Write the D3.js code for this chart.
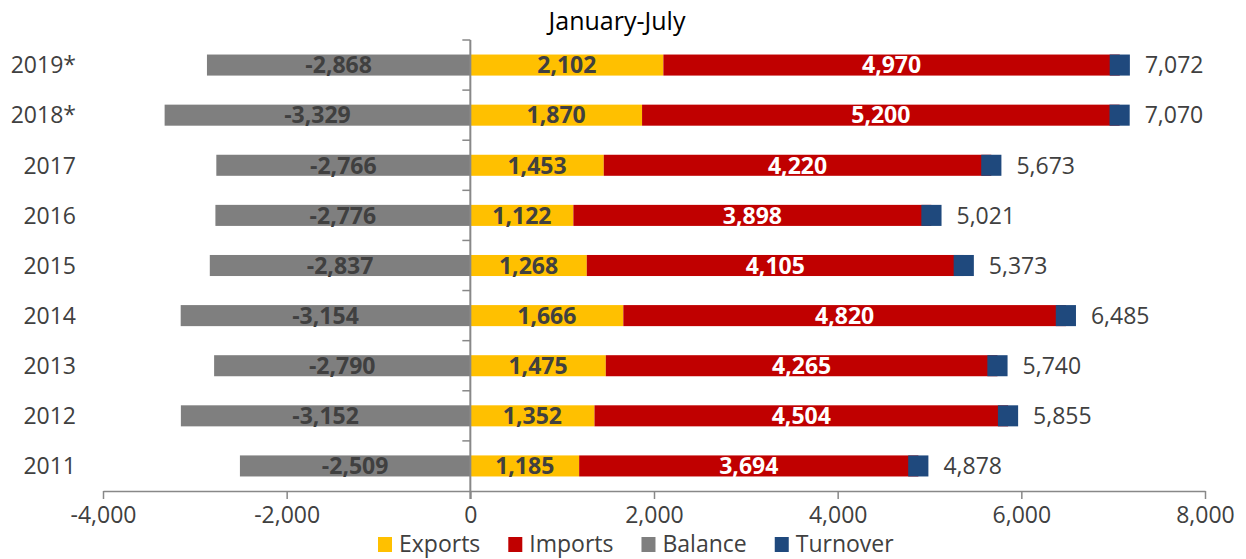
<!DOCTYPE html>
<html>
<head>
<meta charset="utf-8">
<script src="https://cdn.jsdelivr.net/npm/d3@7"></script>
<style>
body{margin:0;background:#fff;}
text{font-family:"Open Sans",sans-serif;}
</style>
</head>
<body>
<script>
// DATA
var years    = ["2019*","2018*","2017","2016","2015","2014","2013","2012","2011"];
var exports_ = [2102,1870,1453,1122,1268,1666,1475,1352,1185];
var imports_ = [4970,5200,4220,3898,4105,4820,4265,4504,3694];
var balance  = [-2868,-3329,-2766,-2776,-2837,-3154,-2790,-3152,-2509];
var turnover = [7072,7070,5673,5021,5373,6485,5740,5855,4878];
var xTicks   = [-4000,-2000,0,2000,4000,6000,8000];
var series   = ["Exports","Imports","Balance","Turnover"];
var colours  = ["#FFC000","#C00000","#7F7F7F","#1F497D"];

var width = 1246, height = 559;
var fmt = d3.formatLocale({decimal:".", thousands:",", grouping:[3], currency:["",""], minus:"-"}).format(",");
var textCol = "#404040";
var axisCol = "#888888";
var fs = 23;

var rows = years.map(function(y,i){
    return {year:y, exp:exports_[i], imp:imports_[i], bal:balance[i], tot:turnover[i]};
});

var svg = d3.select("body").append("svg")
    .attr("width", width).attr("height", height);

var x = d3.scaleLinear().domain([-4000,8000]).range([103,1205]);
var y = d3.scaleBand().domain(years).range([40,491])
    .paddingInner(0.58).paddingOuter(0.29);
var bh = y.bandwidth();

//TITLE
svg.append("text")
    .attr("x", 617).attr("y", 30)
    .attr("text-anchor","middle")
    .attr("font-size", 25)
    .attr("fill","#000")
    .text("January-July");

var bars = svg.append("g");

// balance
bars.selectAll("rect.bal").data(rows).enter().append("rect")
    .attr("class","bal")
    .attr("x", function(d){return x(d.bal);})
    .attr("width", function(d){return x(0)-x(d.bal);})
    .attr("y", function(d){return y(d.year);})
    .attr("height", bh)
    .attr("fill", colours[2]);

// exports
bars.selectAll("rect.exp").data(rows).enter().append("rect")
    .attr("class","exp")
    .attr("x", x(0))
    .attr("width", function(d){return x(d.exp)-x(0);})
    .attr("y", function(d){return y(d.year);})
    .attr("height", bh)
    .attr("fill", colours[0]);

// imports stacked on exports
bars.selectAll("rect.imp").data(rows).enter().append("rect")
    .attr("class","imp")
    .attr("x", function(d){return x(d.exp);})
    .attr("width", function(d){return x(d.exp+d.imp)-x(d.exp);})
    .attr("y", function(d){return y(d.year);})
    .attr("height", bh)
    .attr("fill", colours[1]);

// turnover marker, small block centred on the total
var half = 110;
bars.selectAll("rect.tot").data(rows).enter().append("rect")
    .attr("class","tot")
    .attr("x", function(d){return x(d.tot-half);})
    .attr("width", function(d){return x(d.tot+half)-x(d.tot-half);})
    .attr("y", function(d){return y(d.year);})
    .attr("height", bh)
    .attr("fill", colours[3]);

//LABELS
function label(cls, xf, txt, col, bold, anchor){
    bars.selectAll("text."+cls).data(rows).enter().append("text")
        .attr("class", cls)
        .attr("x", xf)
        .attr("y", function(d){return y(d.year)+bh/2;})
        .attr("dy","0.36em")
        .attr("text-anchor", anchor || "middle")
        .attr("font-size", fs)
        .attr("font-weight", bold ? "bold" : "normal")
        .attr("fill", col)
        .text(txt);
}
label("lbal", function(d){return (x(d.bal)+x(0))/2;}, function(d){return fmt(d.bal);}, textCol, true);
label("lexp", function(d){return (x(0)+x(d.exp))/2;}, function(d){return fmt(d.exp);}, textCol, true);
label("limp", function(d){return (x(d.exp)+x(d.exp+d.imp))/2;}, function(d){return fmt(d.imp);}, "#fff", true);
label("ltot", function(d){return x(d.tot+half)+15;}, function(d){return fmt(d.tot);}, textCol, false, "start");

// year labels
svg.append("g").selectAll("text").data(years).enter().append("text")
    .attr("x", 76)
    .attr("y", function(d){return y(d)+bh/2;})
    .attr("dy","0.36em")
    .attr("text-anchor","end")
    .attr("font-size", fs)
    .attr("fill", textCol)
    .text(function(d){return d;});

//AXES
var xAxis = svg.append("g").attr("transform","translate(0,491)")
    .call(d3.axisBottom(x).tickValues(xTicks).tickSize(8).tickSizeOuter(0).tickFormat(fmt));
xAxis.select(".domain").attr("stroke", axisCol).attr("stroke-width",1.5);
xAxis.selectAll(".tick line").attr("stroke", axisCol).attr("stroke-width",1.5);
xAxis.selectAll(".tick text")
    .attr("font-size", fs).attr("font-family","Open Sans")
    .attr("fill", textCol).attr("y", 16).attr("dy","0.71em");

var yLine = svg.append("g");
yLine.append("line")
    .attr("x1", x(0)).attr("x2", x(0))
    .attr("y1", 40).attr("y2", 499)
    .attr("stroke", axisCol).attr("stroke-width", 2);
var bounds = years.map(function(d){return y(d) - y.step()*0.29;});
yLine.selectAll("line.t").data(bounds).enter().append("line")
    .attr("class","t")
    .attr("x1", x(0)-8).attr("x2", x(0))
    .attr("y1", function(d){return d;}).attr("y2", function(d){return d;})
    .attr("stroke", axisCol).attr("stroke-width", 1.5);

//LEGEND
var legend = svg.append("g");
var lx = 378;
series.forEach(function(s,i){
    legend.append("rect")
        .attr("x", lx).attr("y", 537)
        .attr("width", 14).attr("height", 15)
        .attr("fill", colours[i]);
    var t = legend.append("text")
        .attr("x", lx+21).attr("y", 552)
        .attr("font-size", fs)
        .attr("fill", textCol)
        .text(s);
    lx = lx + 21 + t.node().getComputedTextLength() + 28;
});
</script>
</body>
</html>
